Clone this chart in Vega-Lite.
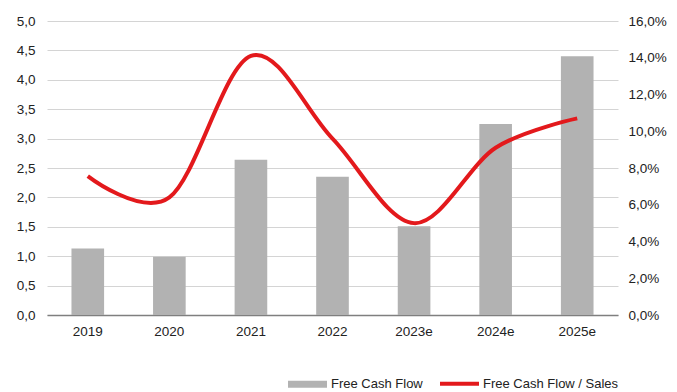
{
  "$schema": "https://vega.github.io/schema/vega-lite/v6.json",
  "width": 571,
  "height": 294,
  "autosize": {"type": "none"},
  "padding": {"left": 47, "top": 21, "right": 59, "bottom": 77},
  "background": "white",
  "config": {
    "view": {"stroke": null},
    "font": "Liberation Sans",
    "axis": {"labelFont": "Liberation Sans", "labelFontSize": 13.5, "labelColor": "#222222", "ticks": false, "title": null}
  },
  "data": {
    "values": [
      {"year": "2019", "fcf": 1.13, "ratio": 7.56},
      {"year": "2020", "fcf": 0.99, "ratio": 6.4},
      {"year": "2021", "fcf": 2.64, "ratio": 14.1},
      {"year": "2022", "fcf": 2.35, "ratio": 9.6},
      {"year": "2023e", "fcf": 1.51, "ratio": 5.0},
      {"year": "2024e", "fcf": 3.25, "ratio": 9.1},
      {"year": "2025e", "fcf": 4.4, "ratio": 10.7}
    ]
  },
  "encoding": {
    "x": {
      "field": "year", "type": "ordinal", "sort": null,
      "scale": {"paddingInner": 0.6, "paddingOuter": 0.3},
      "axis": {"labelAngle": 0, "labelPadding": 9, "domainColor": "#7f7f7f", "domainWidth": 1.5, "grid": false}
    }
  },
  "layer": [
    {
      "mark": {"type": "bar", "color": "#b2b2b2"},
      "encoding": {
        "y": {
          "field": "fcf", "type": "quantitative",
          "scale": {"domain": [0, 5], "nice": false},
          "axis": {
            "values": [0, 0.5, 1, 1.5, 2, 2.5, 3, 3.5, 4, 4.5, 5],
            "labelExpr": "replace(format(datum.value, '.1f'), '.', ',')",
            "labelPadding": 12, "domain": false, "grid": true, "gridColor": "#d4d4d4", "gridWidth": 1
          }
        },
        "color": {
          "datum": "Free Cash Flow", "type": "nominal",
          "scale": {"domain": ["Free Cash Flow", "Free Cash Flow / Sales"], "range": ["#b2b2b2", "#e3191c"]},
          "legend": {
            "orient": "none", "legendX": 254, "legendY": 356, "direction": "horizontal",
            "title": null, "labelFontSize": 13, "labelColor": "#222222", "labelFont": "Liberation Sans",
            "symbolSize": 1521, "columnPadding": 9, "labelOffset": 17,
            "symbolType": "M-1,-0.18H1V0.18H-1Z",
            "symbolStrokeWidth": 0,
            "encode": {
              "symbols": {
                "update": {
                  "shape": {"signal": "datum.label == 'Free Cash Flow' ? 'M-1,-0.18H1V0.18H-1Z' : 'M-1,0H1'"},
                  "fill": {"signal": "datum.label == 'Free Cash Flow' ? '#b2b2b2' : 'transparent'"},
                  "stroke": {"signal": "datum.label == 'Free Cash Flow' ? 'transparent' : '#e3191c'"},
                  "strokeWidth": {"signal": "datum.label == 'Free Cash Flow' ? 0 : 4"}
                }
              }
            }
          }
        }
      }
    },
    {
      "mark": {"type": "line", "strokeWidth": 4, "interpolate": "cardinal"},
      "encoding": {
        "y": {
          "field": "ratio", "type": "quantitative",
          "scale": {"domain": [0, 16], "nice": false},
          "axis": {
            "orient": "right",
            "values": [0, 2, 4, 6, 8, 10, 12, 14, 16],
            "labelExpr": "replace(format(datum.value, '.1f'), '.', ',') + '%'",
            "labelPadding": 10, "domain": false, "grid": false
          }
        },
        "color": {"datum": "Free Cash Flow / Sales", "type": "nominal"}
      }
    }
  ],
  "resolve": {"scale": {"y": "independent"}}
}
